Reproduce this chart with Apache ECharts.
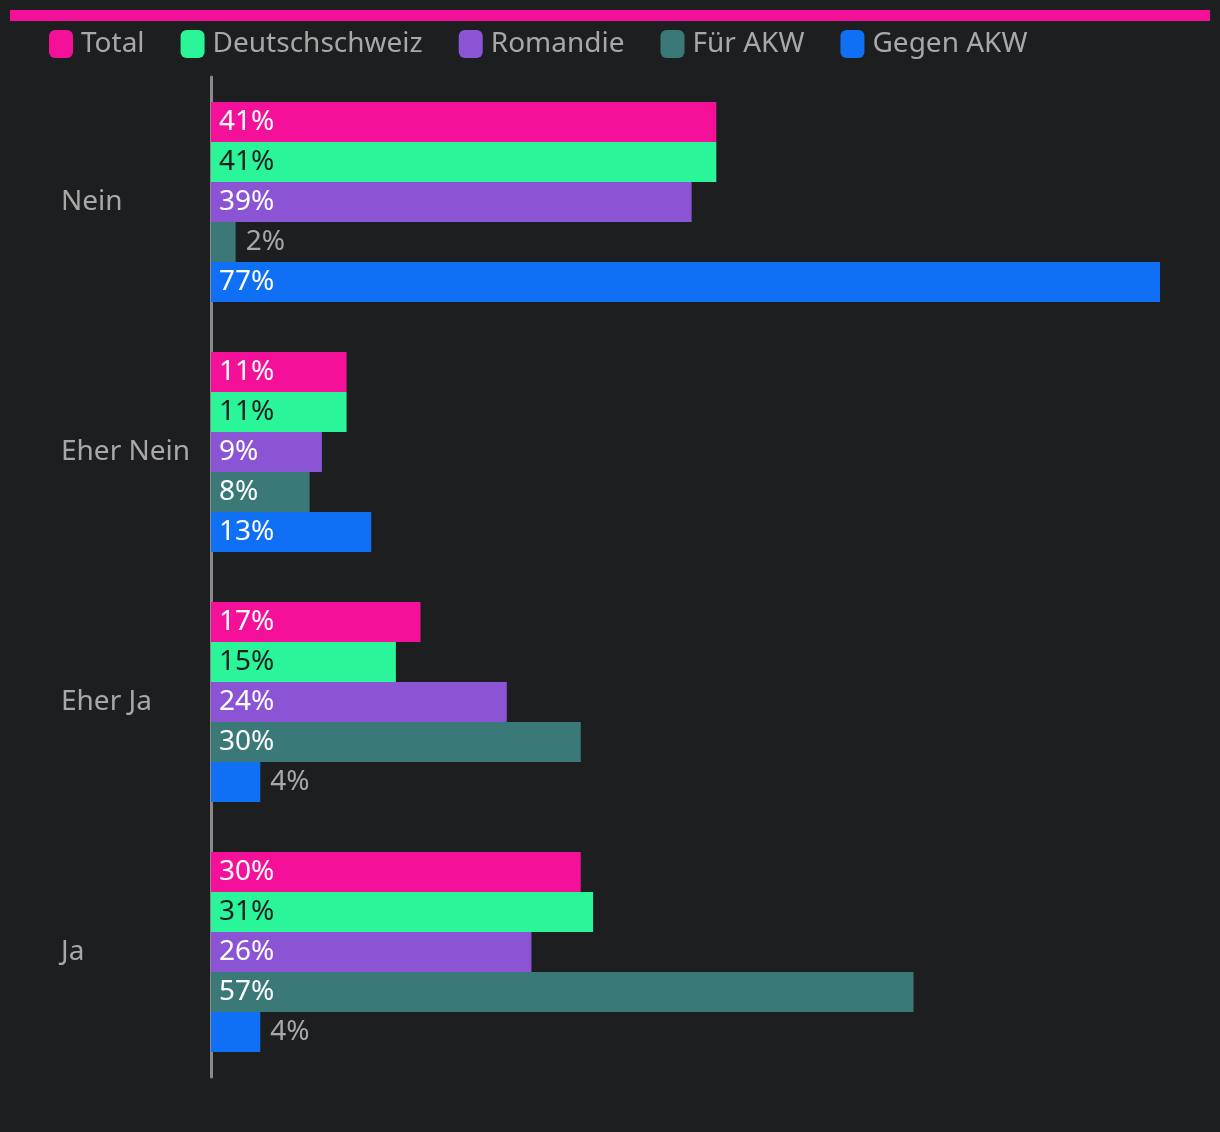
<!DOCTYPE html>
<html><head><meta charset="utf-8">
<script src="https://cdn.jsdelivr.net/npm/echarts@6/dist/echarts.min.js"></script>
<style>html,body{margin:0;padding:0;background:#1d1e20;}#c{width:1220px;height:1132px;}</style>
</head><body><div id="c"></div>
<script>
const categories = ["Nein", "Eher Nein", "Eher Ja", "Ja"];
const seriesNames = ["Total", "Deutschschweiz", "Romandie", "Für AKW", "Gegen AKW"];
const total = [41, 11, 17, 30];
const deutschschweiz = [41, 11, 15, 31];
const romandie = [39, 9, 24, 26];
const fuerAkw = [2, 8, 30, 57];
const gegenAkw = [77, 13, 4, 4];

const values = [total, deutschschweiz, romandie, fuerAkw, gegenAkw];
const colors = ["#f5109a", "#2af598", "#8a54d4", "#3b7878", "#0f6ff5"];
const insideText = ["#ffffff", "#1d1e20", "#ffffff", "#ffffff", "#ffffff"];
const FONT = "Noto Sans";

const chart = echarts.init(document.getElementById('c'), null, {renderer: 'canvas'});
const series = seriesNames.map((name, i) => ({
  name: name,
  type: 'bar',
  barGap: '0%',
  barCategoryGap: '20%',
  itemStyle: {color: colors[i]},
  data: values[i].map(v => {
    const small = v < 6;
    return {
      value: v,
      label: small ? {position: 'right', distance: 10, color: '#a8a8a8'}
                   : {position: 'insideLeft', distance: 8, color: insideText[i]}
    };
  }),
  label: {show: true, fontFamily: FONT, fontSize: 28, formatter: '{c}%'}
}));

chart.setOption({
  backgroundColor: '#1d1e20',
  animation: false,
  graphic: [{type: 'rect', shape: {x: 10, y: 10, width: 1200, height: 11}, style: {fill: '#f5109a'}}],
  legend: {
    left: 49, top: 30, padding: 0,
    itemWidth: 24, itemHeight: 28, itemGap: 36,
    icon: 'roundRect',
    textStyle: {color: '#a8a8a8', fontFamily: FONT, fontSize: 28, padding: [0, 0, 0, 3]},
    data: seriesNames
  },
  grid: {left: 211, top: 77, width: 949, height: 1000, containLabel: false},
  xAxis: {type: 'value', min: 0, max: 77, show: false},
  yAxis: {
    type: 'category', data: categories, inverse: true,
    axisLine: {show: true, lineStyle: {color: '#8a8a8a', width: 3}},
    axisTick: {show: false},
    axisLabel: {color: '#a8a8a8', fontFamily: FONT, fontSize: 28, align: 'left', margin: 150}
  },
  series: series
});
</script></body></html>
